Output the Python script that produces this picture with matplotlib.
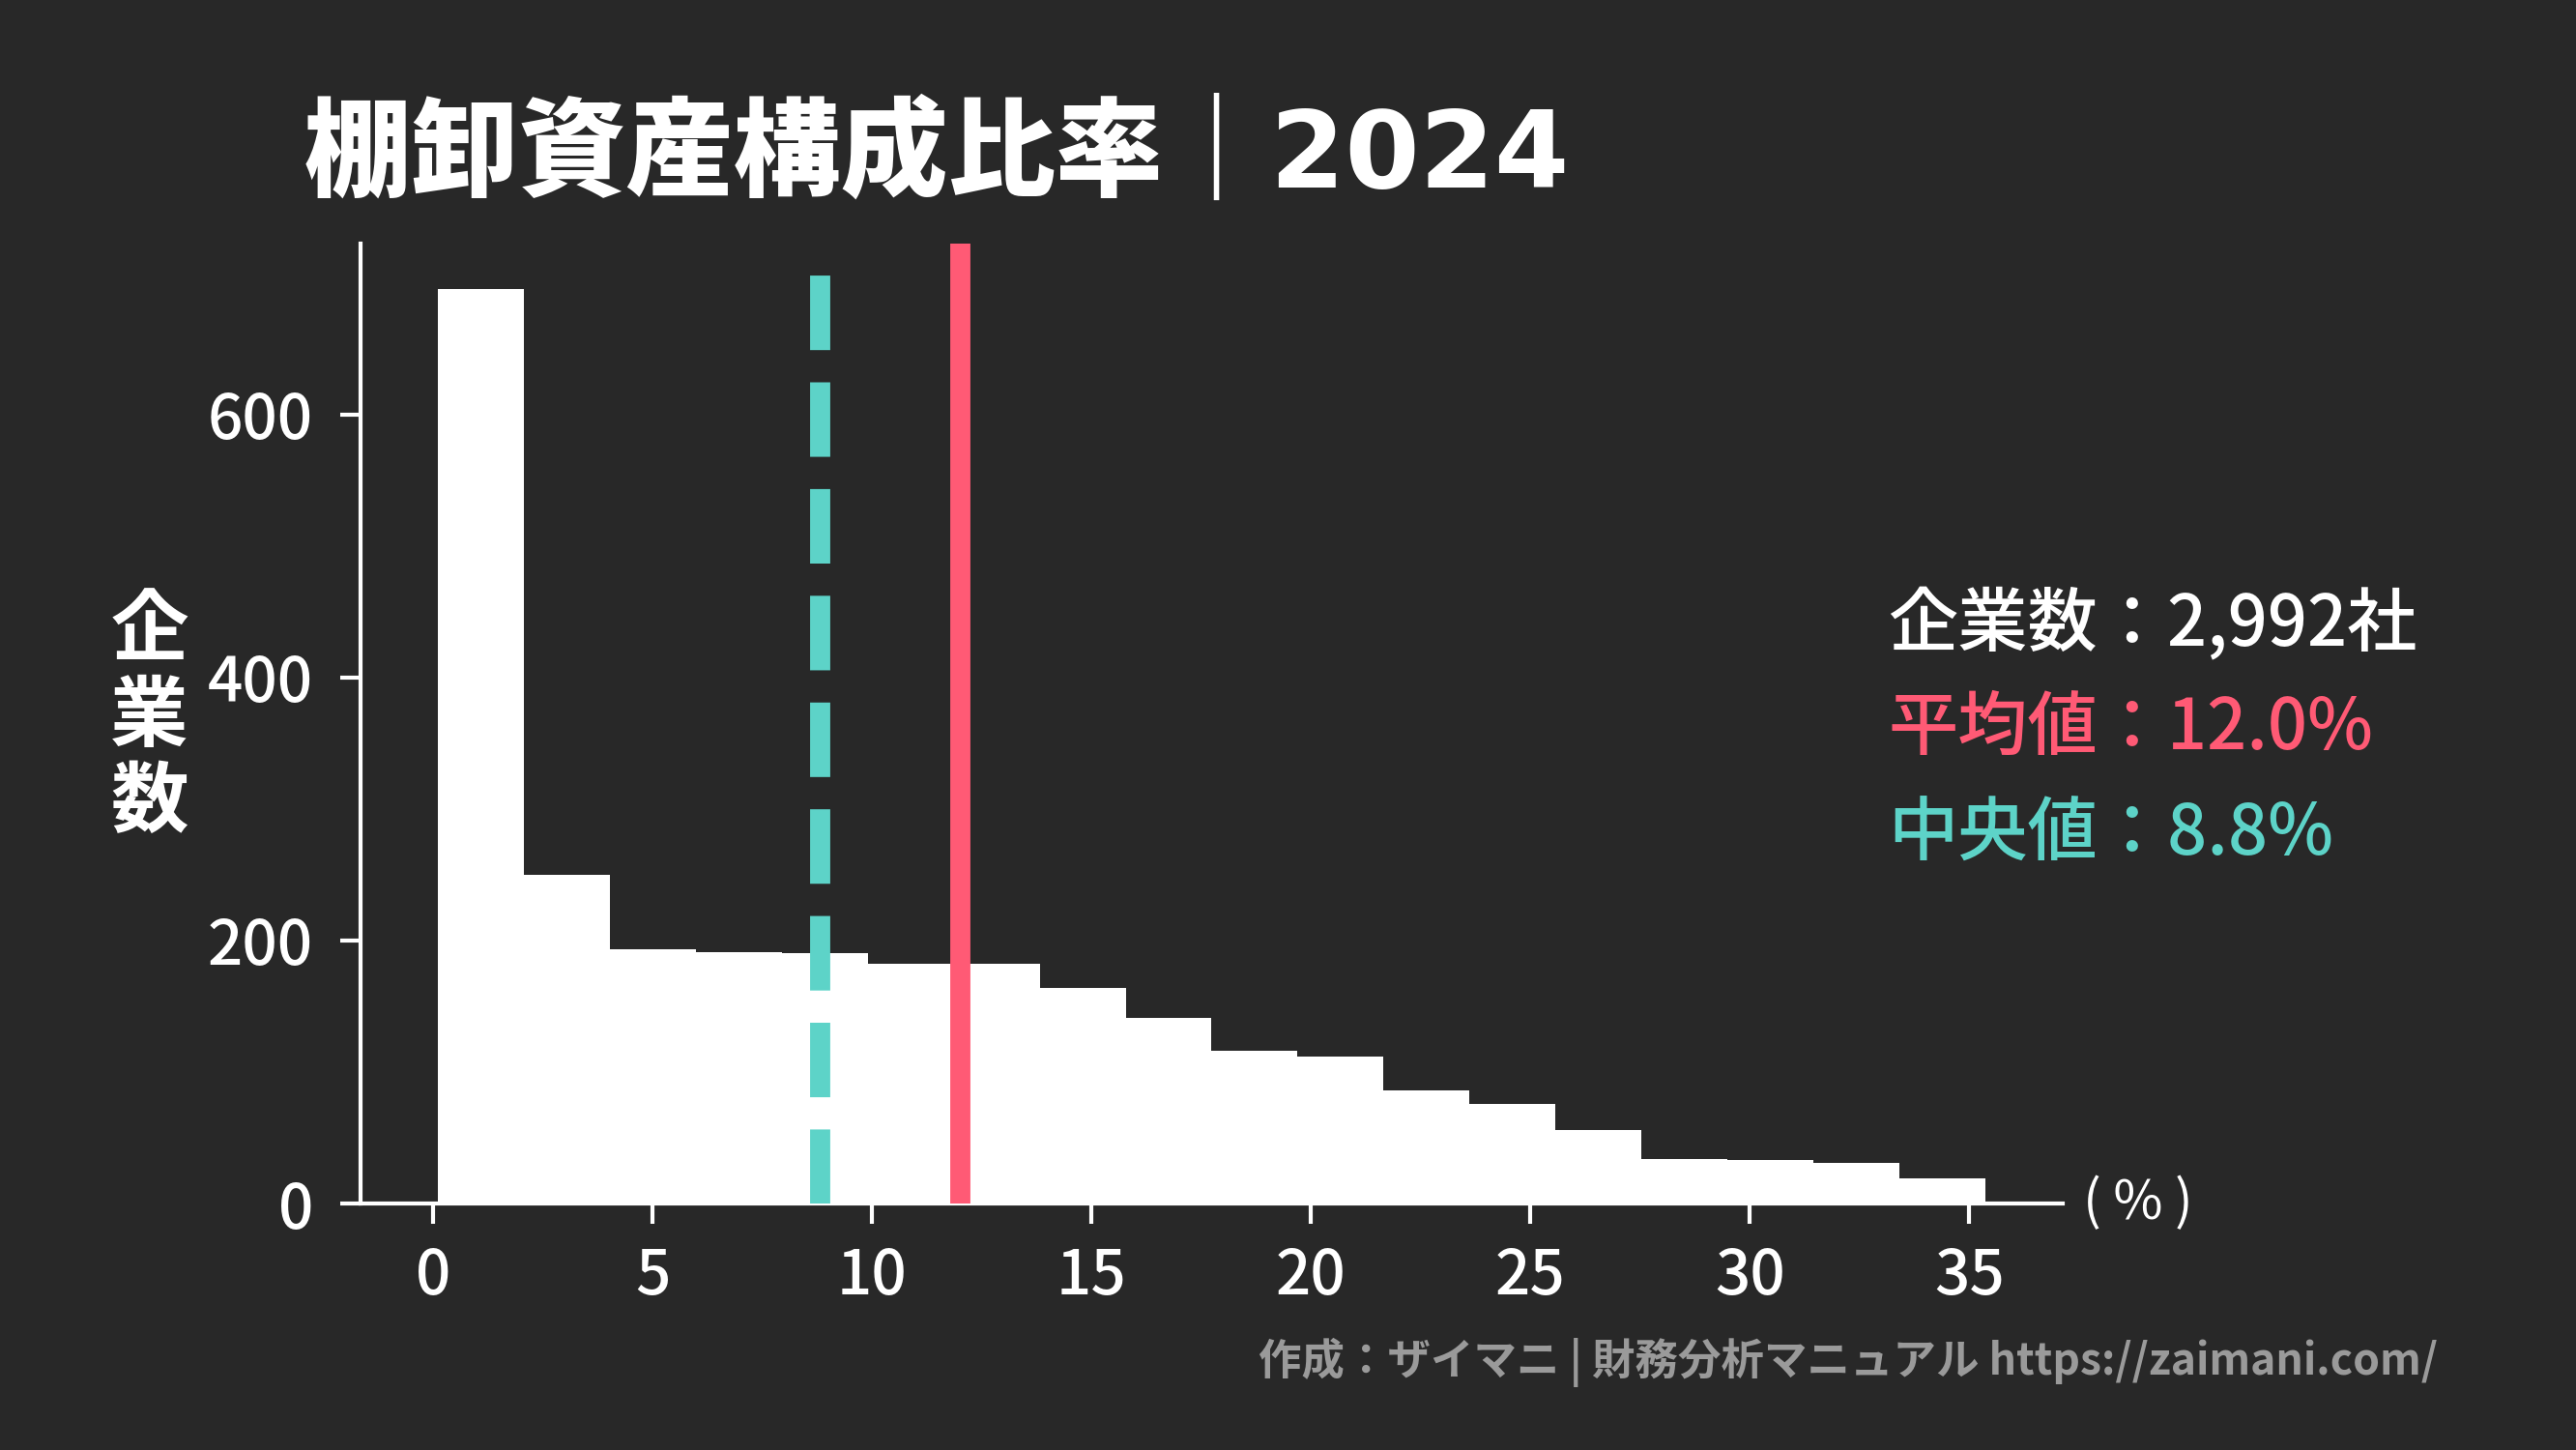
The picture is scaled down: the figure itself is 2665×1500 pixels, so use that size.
import matplotlib
matplotlib.use('Agg')
import matplotlib.pyplot as plt
import numpy as np

plt.rcParams['font.family'] = ['Noto Sans CJK JP', 'DejaVu Sans']

bg = '#282828'
red = '#FF5A75'
teal = '#5DD3C8'

# ヒストグラムの値（読み取り）
bin_lo = 0.1
bin_hi = 35.37
counts = [695, 250, 193, 191, 190, 182, 182, 164, 141, 116, 112, 86, 76, 56, 34, 33, 31, 19]
mean_val = 12.0
median_val = 8.8
n_company = 2992

title = '棚卸資産構成比率｜2024'
ylabel = '企\n業\n数'
xlabel = '( % )'
xticks = [0, 5, 10, 15, 20, 25, 30, 35]
yticks = [0, 200, 400, 600]
footer = '作成：ザイマニ | 財務分析マニュアル https://zaimani.com/'

edges = np.linspace(bin_lo, bin_hi, len(counts) + 1)

fig = plt.figure(figsize=(13.325, 7.5), dpi=200, facecolor=bg)
ax = fig.add_axes([0.1399, 0.17, 0.6609, 0.662])
ax.set_facecolor(bg)

ax.stairs(counts, edges, fill=True, color='white', linewidth=0)
ax.axvline(mean_val, color=red, lw=7.5, zorder=3)
ax.axvline(median_val, color=teal, lw=7.5, ls='--', zorder=3)

ax.set_ylim(0, max(counts) * 1.05)
ax.set_xticks(xticks)
ax.set_yticks(yticks)

for s in ['top', 'right']:
    ax.spines[s].set_visible(False)
for s in ['left', 'bottom']:
    ax.spines[s].set_color('white')
    ax.spines[s].set_linewidth(1.5)
ax.tick_params(colors='white', labelsize=23, width=1.5, length=7.5)
ax.tick_params(axis='x', pad=8)
ax.tick_params(axis='y', pad=10)
for lab in ax.get_xticklabels() + ax.get_yticklabels():
    lab.set_fontweight('medium')

ax.text(1.012, 0, xlabel, transform=ax.transAxes, ha='left', va='center',
        color='white', fontsize=20)

fig.text(0.058, 0.505, ylabel, ha='center', va='center', color='white',
         fontsize=29, fontweight='bold', linespacing=1.13)

# タイトル（数字は幅広のフォント）
fig.text(0.118, 0.871, title, ha='left', va='baseline', color='white',
         fontsize=40, fontweight='heavy', family=['DejaVu Sans', 'Noto Sans CJK JP'])

# 右側の注記
fig.text(0.733, 0.5547, '企業数：{:,}社'.format(n_company), color='white',
         fontsize=26, fontweight='medium', va='baseline')
fig.text(0.733, 0.4833, '平均値：{:.1f}%'.format(mean_val), color=red,
         fontsize=26, fontweight='medium', va='baseline')
fig.text(0.733, 0.41, '中央値：{:.1f}%'.format(median_val), color=teal,
         fontsize=26, fontweight='medium', va='baseline')

fig.text(0.9463, 0.052, footer, ha='right', va='baseline', color='#9a9a9a',
         fontsize=16, fontweight='bold')

fig.savefig('out.png', dpi=200, facecolor=bg)
